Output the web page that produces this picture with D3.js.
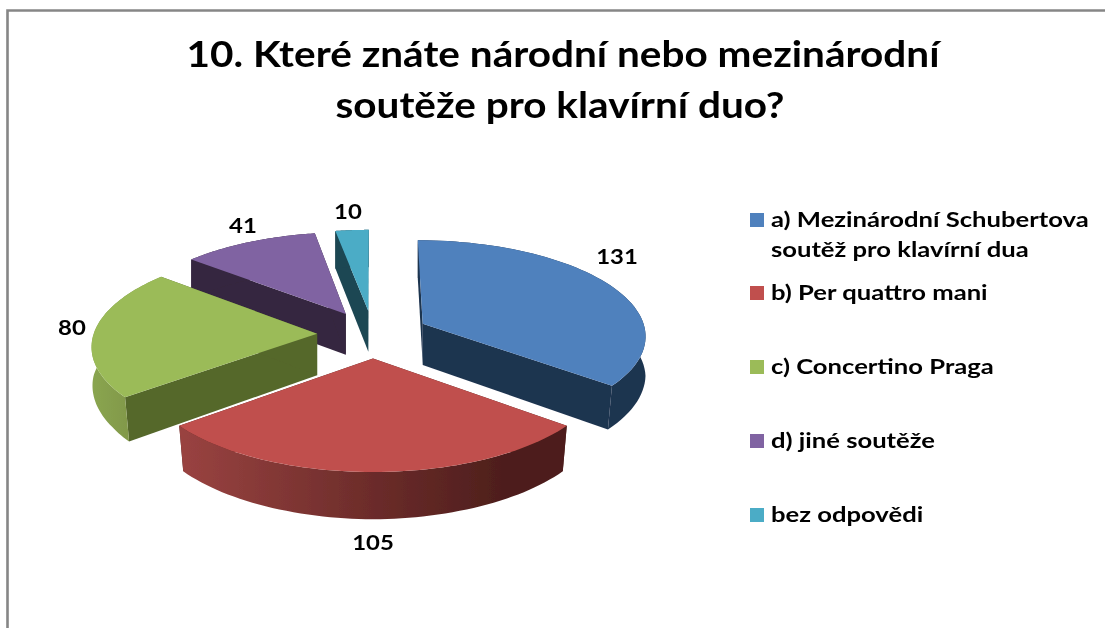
<!DOCTYPE html>
<html><head><meta charset="utf-8">
<script src="https://cdn.jsdelivr.net/npm/d3@7/dist/d3.min.js"></script>
<style>html,body{margin:0;padding:0;background:#fff}svg{display:block}text{font-family:Lato,"Open Sans",sans-serif;font-weight:700;fill:#050505}</style>
</head><body><svg id="c" width="1105" height="628"></svg>
<script>
const categories=["a) Mezinárodní Schubertova|soutěž pro klavírní dua","b) Per quattro mani","c) Concertino Praga","d) jiné soutěže","bez odpovědi"];
const values=[131,105,80,41,10];
const colors=["#4f81bd","#c0504d","#9bbb59","#8064a2","#4bacc6"];
const sideColors=["#1f3450","#4d1e1c","#55672c","#35263f","#1d4653"];
const titleLines=["10. Které znáte národní nebo mezinárodní","soutěže pro klavírní duo?"];

const W=1105,H=628;
const svg=d3.select("#c");
const defs=svg.append("defs");
defs.append("filter").attr("id","soft").attr("x","-5%").attr("y","-5%").attr("width","110%").attr("height","110%")
  .append("feGaussianBlur").attr("stdDeviation",0.45);
const root=svg.append("g").attr("filter","url(#soft)");
const cx=373,cy=334,A=223.5,K=95,q=0.1116,explode=0.25;

// world -> screen with simple perspective; the bottom rim narrows toward the front
function proj(X,Y,bottom){
  const den=1+q*Y;
  const ys=(bottom&&Y<0)?1.012:1;
  const depth=bottom?41.5*(1-0.08*Y):0;
  const inset=bottom?Math.sign(X)*Math.min(1,Math.abs(X)*5)*Math.min(4,8*Math.max(0,-Y)):0;
  return [cx+A*X/den-inset, cy-ys*K*Y/den+depth];
}
const line=d3.line();
const pie=d3.pie().sort(null).startAngle(0).endAngle(2*Math.PI);
const arcs=pie(values).map((d,i)=>Object.assign(d,{i}));

function rimPts(d,a0,a1,bottom){
  const mid=(d.startAngle+d.endAngle)/2, ox=explode*Math.sin(mid), oy=explode*Math.cos(mid);
  return d3.range(0,61).map(k=>{const t=a0+(a1-a0)*k/60;return proj(ox+Math.sin(t),oy+Math.cos(t),bottom);});
}
function apex(d,bottom){
  const mid=(d.startAngle+d.endAngle)/2;
  return proj(explode*Math.sin(mid),explode*Math.cos(mid),bottom);
}
function edge(d,a,bottom){return rimPts(d,a,a,bottom)[0];}

// frame
root.append("path").attr("d",line([[7.5,H+5],[7.5,10.5],[W+5,10.5]])).attr("fill","none").attr("stroke","#868686").attr("stroke-width",2.6);

// gradients for outer wall
const gr=defs.append("linearGradient").attr("id","gRed").attr("gradientUnits","userSpaceOnUse").attr("x1",178).attr("x2",565).attr("y1",0).attr("y2",0);
gr.append("stop").attr("offset",0).attr("stop-color","#9a4341");
gr.append("stop").attr("offset",0.5).attr("stop-color","#6c2c2a");
gr.append("stop").attr("offset",0.85).attr("stop-color","#4d1e1c");
gr.append("stop").attr("offset",1).attr("stop-color","#4d1e1c");
const gg=defs.append("linearGradient").attr("id","gGreen").attr("gradientUnits","userSpaceOnUse").attr("x1",90).attr("x2",127).attr("y1",0).attr("y2",0);
gg.append("stop").attr("offset",0).attr("stop-color","#8aa650");
gg.append("stop").attr("offset",1).attr("stop-color","#82994a");
const outerFill=["#1f3450","url(#gRed)","url(#gGreen)","#35263f","#1d4653"];

const order=[3,4,2,0,1];
order.forEach(i=>{
  const d=arcs[i], g=root.append("g");
  const top=rimPts(d,d.startAngle,d.endAngle,false), bot=rimPts(d,d.startAngle,d.endAngle,true);
  [d.startAngle,d.endAngle].forEach(a=>{
    g.append("path").attr("d",line([apex(d,false),edge(d,a,false),edge(d,a,true),apex(d,true)])+"Z").attr("fill",sideColors[i]);
  });
  g.append("path").attr("d",line(top.concat(bot.slice().reverse()))+"Z").attr("fill",outerFill[i]);
  g.append("path").attr("d",line([apex(d,false)].concat(top))+"Z").attr("fill",colors[i]);
});

function stretch(sel,f){
  sel.each(function(){
    const n=this;
    n.setAttribute("textLength",n.getComputedTextLength()*f);
    n.setAttribute("lengthAdjust","spacingAndGlyphs");
  });
}
// title
const titleX=[563,560];
root.selectAll(".t").data(titleLines).join("text").attr("class","t")
  .attr("x",(d,i)=>titleX[i]).attr("y",(d,i)=>67+i*51).attr("text-anchor","middle").attr("font-size",37).text(d=>d)
  .call(stretch,1.095);

// data labels
const labelPos=[[617,264],[373,550],[72,335],[243,233],[348,219]];
root.selectAll(".v").data(values).join("text").attr("class","v")
  .attr("x",(d,i)=>labelPos[i][0]).attr("y",(d,i)=>labelPos[i][1]).attr("text-anchor","middle").attr("font-size",21).text(d=>d)
  .call(stretch,1.14);

// legend
const legendBase=[227,300,374,448,522];
categories.forEach((c,i)=>{
  const y=legendBase[i];
  root.append("rect").attr("x",750).attr("y",y-14).attr("width",14).attr("height",14).attr("fill",colors[i]);
  c.split("|").forEach((s,j)=>{
    root.append("text").attr("x",771).attr("y",y+j*30).attr("font-size",21).text(s).call(stretch,1.22);
  });
});
</script></body></html>
